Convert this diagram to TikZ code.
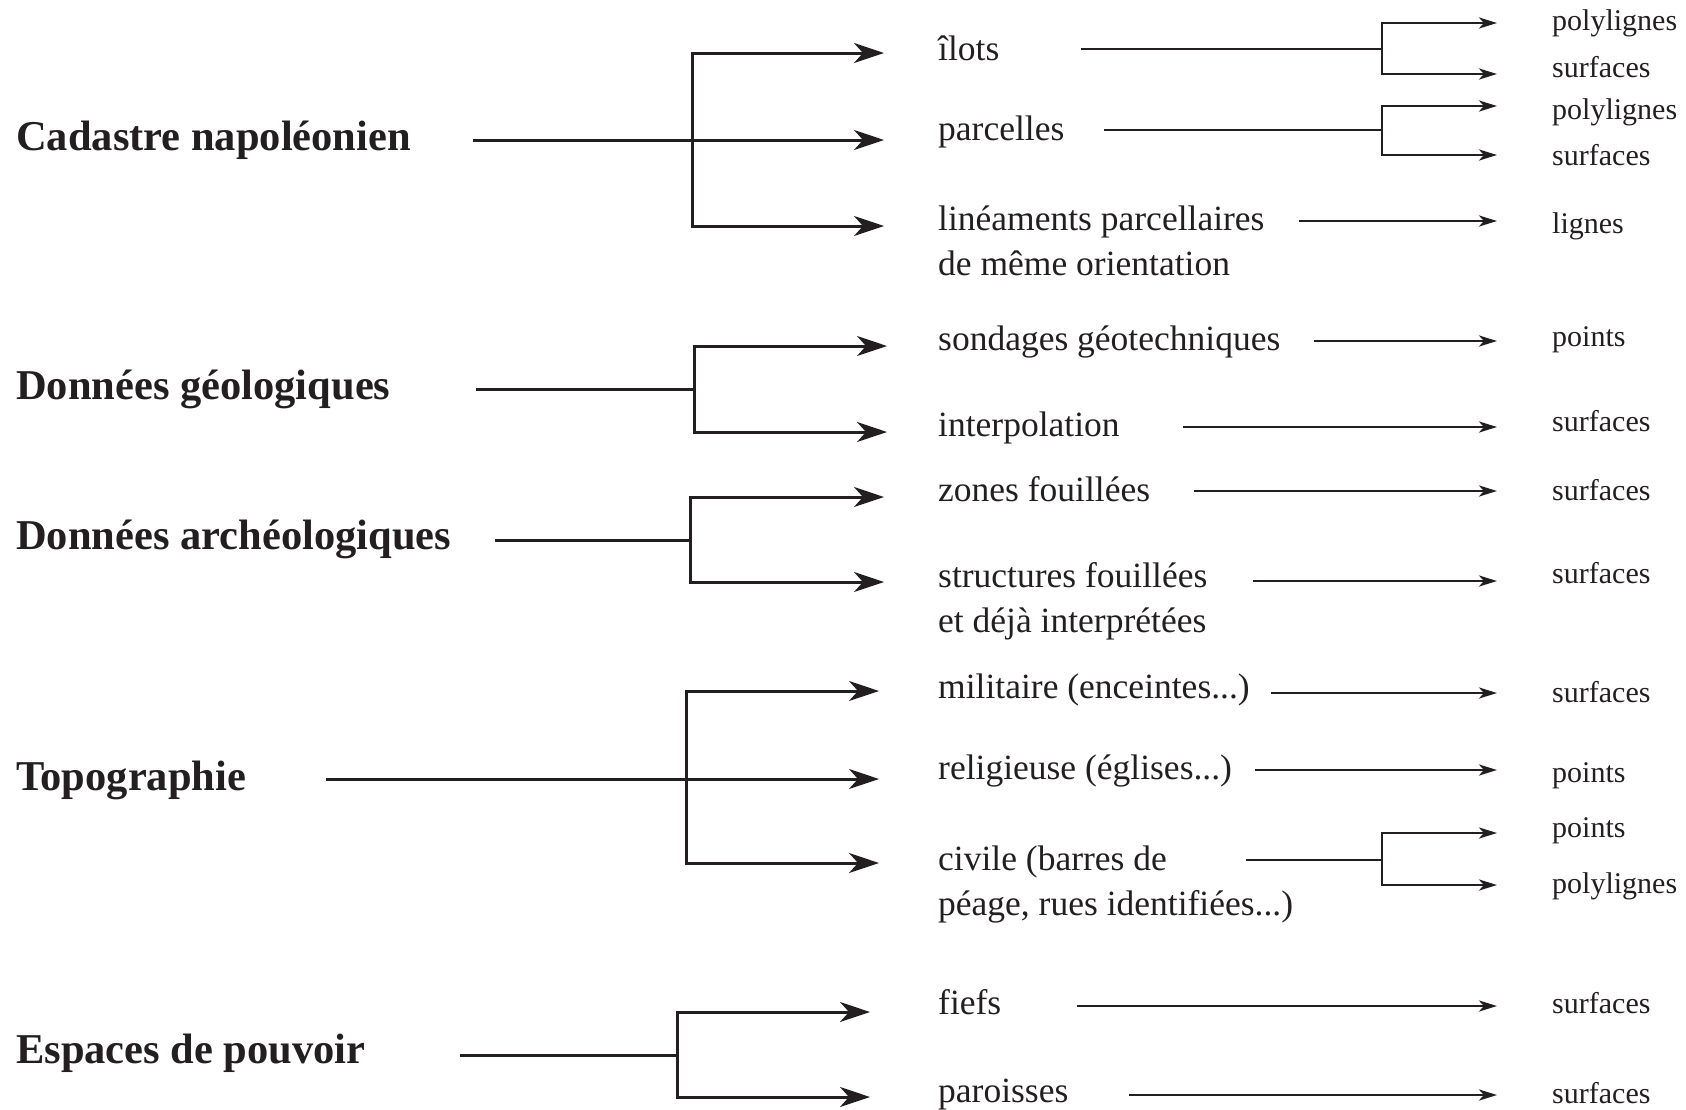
\documentclass[tikz,border=0pt]{standalone}
\usepackage{fontspec}
\setmainfont{Liberation Serif}
\usetikzlibrary{arrows.meta}
\definecolor{ink}{RGB}{35,31,32}

\begin{document}
\begin{tikzpicture}[x=1pt,y=-1pt,color=ink]
\tikzstyle{head}=[anchor=base west, inner sep=0pt, font=\fontsize{42.5}{50}\selectfont\bfseries]
\tikzstyle{item}=[anchor=base west, inner sep=0pt, align=left, font=\fontsize{35.5}{45}\selectfont]
\tikzstyle{kind}=[anchor=base west, inner sep=0pt, font=\fontsize{30}{36}\selectfont]
\tikzstyle{bigarrow}=[line width=3pt, -{Stealth[length=30pt,width=20pt,inset=9pt]}]
\tikzstyle{smallarrow}=[line width=2.8pt, -{Stealth[length=18pt,width=11pt,inset=5pt]}]
\tikzstyle{plain}=[line width=3pt]
\tikzstyle{thin}=[line width=2.8pt]

\useasboundingbox (0,0) rectangle (1686,1109);

% themes
\draw (16,150) node[head] (cadastre) {Cadastre napoléonien};
\draw (16,399) node[head] (geol) {Données géologiques};
\draw (16,549) node[head] (arch) {Données archéologiques};
\draw (16,790) node[head] (topo) {Topographie};
\draw (16,1063) node[head] (pouvoir) {Espaces de pouvoir};

% objects (two-line labels sit on their last line)
\draw (938,60) node[item] (ilots) {îlots};
\draw (938,140) node[item] (parcelles) {parcelles};
\draw (938,275) node[item] (lineaments) {linéaments parcellaires\\de même orientation};
\draw (938,350) node[item] (sondages) {sondages géotechniques};
\draw (938,436) node[item] (interp) {interpolation};
\draw (938,501) node[item] (zones) {zones fouillées};
\draw (938,632) node[item] (structures) {structures fouillées\\et déjà interprétées};
\draw (938,698) node[item] (militaire) {militaire (enceintes...)};
\draw (938,779) node[item] (religieuse) {religieuse (églises...)};
\draw (938,915) node[item] (civile) {civile (barres de\\péage, rues identifiées...)};
\draw (938,1014) node[item] (fiefs) {fiefs};
\draw (938,1102) node[item] (paroisses) {paroisses};

% geometry types
\draw (1552,30) node[kind] (ilots-poly) {polylignes};
\draw (1552,77) node[kind] (ilots-surf) {surfaces};
\draw (1552,119) node[kind] (parc-poly) {polylignes};
\draw (1552,165) node[kind] (parc-surf) {surfaces};
\draw (1552,233) node[kind] (lin-lignes) {lignes};
\draw (1552,346) node[kind] (sond-points) {points};
\draw (1552,431) node[kind] (interp-surf) {surfaces};
\draw (1552,500) node[kind] (zones-surf) {surfaces};
\draw (1552,583) node[kind] (struct-surf) {surfaces};
\draw (1552,702) node[kind] (milit-surf) {surfaces};
\draw (1552,782) node[kind] (relig-points) {points};
\draw (1552,837) node[kind] (civ-points) {points};
\draw (1552,893) node[kind] (civ-poly) {polylignes};
\draw (1552,1013) node[kind] (fiefs-surf) {surfaces};
\draw (1552,1103) node[kind] (paroi-surf) {surfaces};

% line ends
\coordinate (cadastre-out) at (473,140);
\coordinate (cadastre-fork) at (692,140);
\coordinate (ilots-in) at (884,53);
\coordinate (parcelles-in) at (884,140);
\coordinate (lineaments-in) at (884,226);
\coordinate (geol-out) at (476,389);
\coordinate (geol-fork) at (694,389);
\coordinate (sondages-in) at (887,346);
\coordinate (interp-in) at (887,432);
\coordinate (arch-out) at (495,540);
\coordinate (arch-fork) at (690,540);
\coordinate (zones-in) at (884,497);
\coordinate (structures-in) at (884,582);
\coordinate (topo-out) at (326,779);
\coordinate (topo-fork) at (686,779);
\coordinate (militaire-in) at (879,691);
\coordinate (religieuse-in) at (879,779);
\coordinate (civile-in) at (879,863);
\coordinate (pouvoir-out) at (460,1055);
\coordinate (pouvoir-fork) at (677,1055);
\coordinate (fiefs-in) at (870,1012);
\coordinate (paroisses-in) at (870,1097);

\coordinate (ilots-out) at (1081,49);
\coordinate (ilots-fork) at (1382,49);
\coordinate (parcelles-out) at (1104,130);
\coordinate (parcelles-fork) at (1382,130);
\coordinate (lineaments-out) at (1299,221);
\coordinate (sondages-out) at (1314,341);
\coordinate (interp-out) at (1183,427);
\coordinate (zones-out) at (1194,491);
\coordinate (structures-out) at (1253,581);
\coordinate (militaire-out) at (1271,693);
\coordinate (religieuse-out) at (1255,770);
\coordinate (civile-out) at (1246,860);
\coordinate (civile-fork) at (1382,860);
\coordinate (fiefs-out) at (1077,1006);
\coordinate (paroisses-out) at (1129,1095);

\coordinate (ilots-t1) at (1497,23);
\coordinate (ilots-t2) at (1497,74);
\coordinate (parcelles-t1) at (1497,106);
\coordinate (parcelles-t2) at (1497,155);
\coordinate (civile-t1) at (1497,833);
\coordinate (civile-t2) at (1497,885);

% themes -> objects
\draw[plain] (cadastre-out) -- (cadastre-fork);
\draw[bigarrow] (cadastre-fork |- lineaments-in) -- (cadastre-fork |- ilots-in) -- (ilots-in);
\draw[bigarrow] (cadastre-out) -- (parcelles-in);
\draw[bigarrow] (cadastre-fork |- ilots-in) -- (cadastre-fork |- lineaments-in) -- (lineaments-in);

\draw[plain] (geol-out) -- (geol-fork);
\draw[bigarrow] (geol-fork |- interp-in) -- (geol-fork |- sondages-in) -- (sondages-in);
\draw[bigarrow] (geol-fork |- sondages-in) -- (geol-fork |- interp-in) -- (interp-in);

\draw[plain] (arch-out) -- (arch-fork);
\draw[bigarrow] (arch-fork |- structures-in) -- (arch-fork |- zones-in) -- (zones-in);
\draw[bigarrow] (arch-fork |- zones-in) -- (arch-fork |- structures-in) -- (structures-in);

\draw[plain] (topo-out) -- (topo-fork);
\draw[bigarrow] (topo-fork |- civile-in) -- (topo-fork |- militaire-in) -- (militaire-in);
\draw[bigarrow] (topo-out) -- (religieuse-in);
\draw[bigarrow] (topo-fork |- militaire-in) -- (topo-fork |- civile-in) -- (civile-in);

\draw[plain] (pouvoir-out) -- (pouvoir-fork);
\draw[bigarrow] (pouvoir-fork |- paroisses-in) -- (pouvoir-fork |- fiefs-in) -- (fiefs-in);
\draw[bigarrow] (pouvoir-fork |- fiefs-in) -- (pouvoir-fork |- paroisses-in) -- (paroisses-in);

% objects -> geometry types
\draw[thin] (ilots-out) -- (ilots-fork);
\draw[smallarrow] (ilots-fork |- ilots-t2) -- (ilots-fork |- ilots-t1) -- (ilots-t1);
\draw[smallarrow] (ilots-fork |- ilots-t1) -- (ilots-fork |- ilots-t2) -- (ilots-t2);

\draw[thin] (parcelles-out) -- (parcelles-fork);
\draw[smallarrow] (parcelles-fork |- parcelles-t2) -- (parcelles-fork |- parcelles-t1) -- (parcelles-t1);
\draw[smallarrow] (parcelles-fork |- parcelles-t1) -- (parcelles-fork |- parcelles-t2) -- (parcelles-t2);

\draw[smallarrow] (lineaments-out) -- (lineaments-out -| ilots-t1);
\draw[smallarrow] (sondages-out) -- (sondages-out -| ilots-t1);
\draw[smallarrow] (interp-out) -- (interp-out -| ilots-t1);
\draw[smallarrow] (zones-out) -- (zones-out -| ilots-t1);
\draw[smallarrow] (structures-out) -- (structures-out -| ilots-t1);
\draw[smallarrow] (militaire-out) -- (militaire-out -| ilots-t1);
\draw[smallarrow] (religieuse-out) -- (religieuse-out -| ilots-t1);

\draw[thin] (civile-out) -- (civile-fork);
\draw[smallarrow] (civile-fork |- civile-t2) -- (civile-fork |- civile-t1) -- (civile-t1);
\draw[smallarrow] (civile-fork |- civile-t1) -- (civile-fork |- civile-t2) -- (civile-t2);

\draw[smallarrow] (fiefs-out) -- (fiefs-out -| ilots-t1);
\draw[smallarrow] (paroisses-out) -- (paroisses-out -| ilots-t1);
\end{tikzpicture}
\end{document}
